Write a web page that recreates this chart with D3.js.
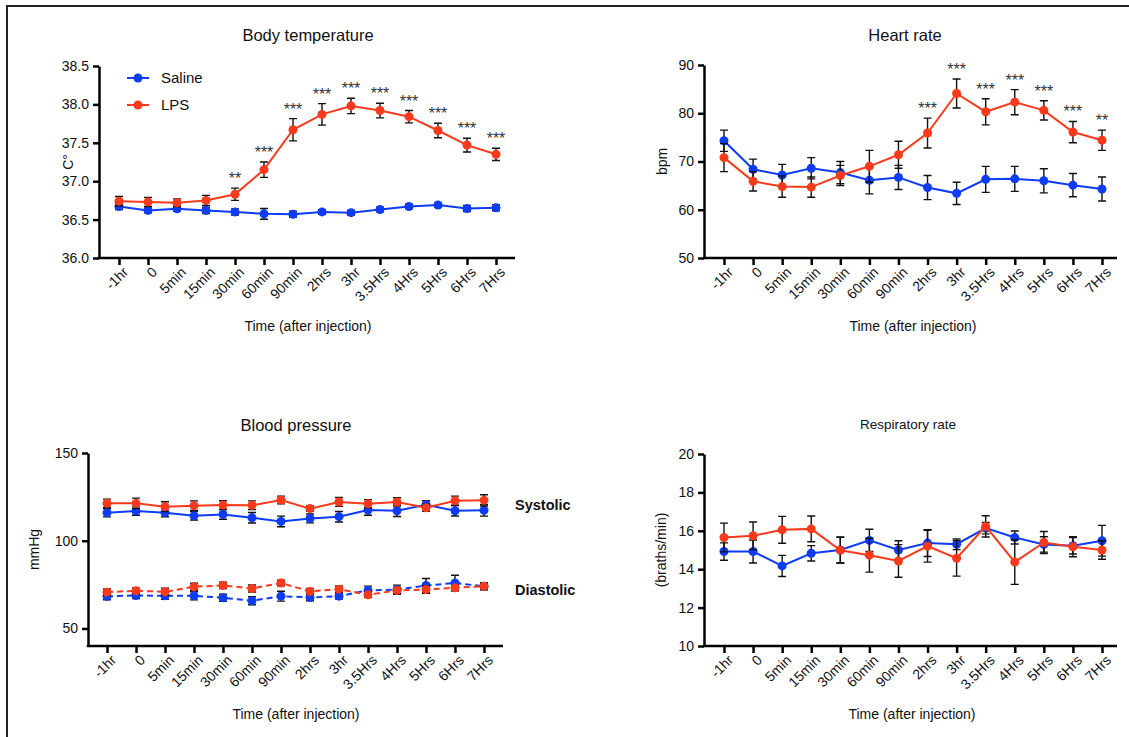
<!DOCTYPE html>
<html>
<head>
<meta charset="utf-8">
<script src="https://cdn.jsdelivr.net/npm/d3@7"></script>
<style>
  body { margin: 0; background: #fff; }
  svg { display: block; font-family: "Liberation Sans", Arial, sans-serif; }
</style>
</head>
<body>
<div class="graph"></div>
<script>
//Time points on the x axis
const timePoints = ["-1hr", "0", "5min", "15min", "30min", "60min", "90min", "2hrs", "3hr", "3.5Hrs", "4Hrs", "5Hrs", "6Hrs", "7Hrs"];

//Body temperature (mean and error)
const tempSaline = [36.67, 36.62, 36.64, 36.62, 36.60, 36.575, 36.57, 36.60, 36.59, 36.63, 36.67, 36.69, 36.645, 36.655];
const tempSalineErr = [0.04, 0.03, 0.03, 0.04, 0.04, 0.07, 0.04, 0.03, 0.03, 0.03, 0.03, 0.025, 0.04, 0.04];
const tempLPS = [36.74, 36.73, 36.72, 36.75, 36.83, 37.15, 37.67, 37.87, 37.98, 37.92, 37.84, 37.66, 37.47, 37.35];
const tempLPSErr = [0.06, 0.06, 0.05, 0.065, 0.08, 0.10, 0.145, 0.14, 0.10, 0.095, 0.08, 0.095, 0.09, 0.08];
const tempStars = ["", "", "", "", "**", "***", "***", "***", "***", "***", "***", "***", "***", "***"];
const tempTicks = [36.0, 36.5, 37.0, 37.5, 38.0, 38.5];

//Heart rate
const hrSaline = [74.3, 68.4, 67.2, 68.6, 67.7, 66.1, 66.7, 64.6, 63.4, 66.3, 66.4, 66.0, 65.1, 64.3];
const hrSalineErr = [2.2, 2.1, 2.2, 2.2, 2.3, 2.8, 2.5, 2.5, 2.3, 2.7, 2.6, 2.5, 2.4, 2.5];
const hrLPS = [70.8, 65.9, 64.8, 64.7, 67.1, 69.0, 71.4, 75.9, 84.1, 80.3, 82.3, 80.6, 76.1, 74.4];
const hrLPSErr = [2.9, 2.0, 2.2, 2.1, 2.1, 3.3, 2.8, 3.1, 3.0, 2.7, 2.6, 2.0, 2.2, 2.1];
const hrStars = ["", "", "", "", "", "", "", "***", "***", "***", "***", "***", "***", "**"];
const hrTicks = [50, 60, 70, 80, 90];

//Blood pressure
const sysSaline = [116.0, 116.9, 116.0, 114.3, 115.0, 113.1, 111.0, 112.7, 113.7, 117.5, 117.1, 120.5, 117.1, 117.3];
const sysSalineErr = [2.4, 2.4, 2.3, 2.5, 2.8, 3.0, 3.0, 2.5, 3.0, 3.0, 3.3, 2.3, 3.0, 3.3];
const sysLPS = [121.3, 121.3, 119.4, 120.0, 120.3, 120.2, 123.2, 118.3, 122.1, 121.1, 122.1, 118.8, 122.8, 123.0];
const sysLPSErr = [2.4, 3.0, 2.8, 2.7, 2.5, 2.5, 2.2, 1.5, 2.5, 2.3, 2.4, 2.0, 2.6, 3.2];
const diaSaline = [68.3, 68.8, 68.6, 68.6, 67.5, 65.8, 68.4, 67.7, 68.4, 71.7, 72.1, 74.5, 75.9, 74.0];
const diaSalineErr = [1.9, 1.8, 2.0, 2.3, 2.0, 2.3, 2.8, 1.9, 1.6, 2.4, 2.6, 4.0, 4.4, 1.8];
const diaLPS = [70.7, 71.5, 70.9, 73.8, 74.5, 72.8, 75.9, 71.1, 72.4, 69.2, 71.7, 72.2, 73.2, 74.0];
const diaLPSErr = [1.8, 1.6, 2.0, 2.0, 1.8, 2.0, 1.6, 1.7, 1.8, 1.5, 1.6, 2.1, 1.6, 2.0];
const bpTicks = [50, 100, 150];

//Respiratory rate
const rrSaline = [14.92, 14.92, 14.17, 14.83, 15.0, 15.5, 15.0, 15.36, 15.3, 16.14, 15.65, 15.29, 15.22, 15.48];
const rrSalineErr = [0.45, 0.6, 0.55, 0.4, 0.68, 0.58, 0.48, 0.7, 0.28, 0.3, 0.34, 0.4, 0.43, 0.8];
const rrLPS = [15.65, 15.74, 16.05, 16.1, 14.99, 14.73, 14.43, 15.2, 14.57, 16.23, 14.37, 15.39, 15.17, 15.0];
const rrLPSErr = [0.75, 0.72, 0.7, 0.67, 0.67, 0.88, 0.85, 0.83, 0.93, 0.55, 1.16, 0.57, 0.52, 0.48];
const rrTicks = [10, 12, 14, 16, 18, 20];

const BLUE = "#0d3cf4",
      RED = "#f83a1c";

let svg = d3
    .select(".graph")
    .append("svg")
    .attr("width", 1129)
    .attr("height", 737);

//Frame lines on the left and the top
svg.append("path")
   .attr("d", "M7,737V6H1129")
   .attr("fill", "none")
   .attr("stroke", "#222")
   .attr("stroke-width", 2);

//Draws one panel with its axes, title and labels
function createPanel(p){
    let g = svg.append("g");

    let xScale = d3.scalePoint().domain(timePoints).range([p.first, p.last]);
    let yScale = d3.scaleLinear().domain(p.domain).range([p.bottom, p.top]);

    //y axis
    let yAxis = g.append("g")
        .attr("transform", `translate(${p.axisX}, 0)`)
        .call(d3.axisLeft(yScale).tickValues(p.ticks).tickSize(6).tickSizeOuter(0).tickPadding(4)
              .tickFormat(p.format || d3.format("d")));
    yAxis.select(".domain").attr("stroke-width", 2.5);
    yAxis.selectAll(".tick line").attr("stroke-width", 2.5);
    yAxis.selectAll("text").attr("font-size", 14).attr("fill", "#111");

    //x axis
    let xAxis = g.append("g")
        .attr("transform", `translate(0, ${p.bottom})`)
        .call(d3.axisBottom(xScale).tickSize(7).tickSizeOuter(0).tickFormat(""));
    xAxis.select(".domain")
         .attr("d", `M${p.axisX - 1.25},0H${p.end}`)
         .attr("stroke-width", 2.5);
    xAxis.selectAll(".tick line").attr("stroke-width", 2.5);

    g.append("g")
     .selectAll("text")
     .data(timePoints)
     .enter()
     .append("text")
     .attr("transform", d => `translate(${xScale(d) + 10}, ${p.bottom + 15}) rotate(-45)`)
     .attr("text-anchor", "end")
     .attr("font-size", 14)
     .attr("fill", "#111")
     .text(d => d);

    //Titles and axis labels
    g.append("text")
     .attr("x", p.titleX)
     .attr("y", p.titleY)
     .attr("text-anchor", "middle")
     .attr("font-size", p.titleSize)
     .attr("fill", "#111")
     .text(p.title);

    g.append("text")
     .attr("x", p.titleX + (p.xLabelShift || 0))
     .attr("y", p.bottom + 73)
     .attr("text-anchor", "middle")
     .attr("font-size", 14)
     .attr("fill", "#111")
     .text("Time (after injection)");

    g.append("text")
     .attr("transform", `translate(${p.yLabelX}, ${(p.top + p.bottom) / 2}) rotate(-90)`)
     .attr("text-anchor", "middle")
     .attr("dy", "0.35em")
     .attr("font-size", 14)
     .attr("fill", "#111")
     .text(p.yLabel);

    //Each series: line, error bars, points
    p.series.forEach(s => {
        let pts = timePoints.map((t, i) => ({t: t, v: s.values[i], e: s.errors[i]}));

        g.append("path")
         .datum(pts)
         .attr("fill", "none")
         .attr("stroke", s.color)
         .attr("stroke-width", 2)
         .attr("stroke-dasharray", s.dashed ? "6,4" : null)
         .attr("d", d3.line().x(d => xScale(d.t)).y(d => yScale(d.v)));

        let bars = g.append("g")
            .attr("stroke", "#111")
            .attr("stroke-width", 1.4)
            .attr("fill", "none");

        bars.selectAll("path")
            .data(pts)
            .enter()
            .append("path")
            .attr("d", d => {
                let x = xScale(d.t), y1 = yScale(d.v + d.e), y2 = yScale(d.v - d.e);
                return `M${x - 4},${y1}H${x + 4}M${x},${y1}V${y2}M${x - 4},${y2}H${x + 4}`;
            });

        g.append("g")
         .selectAll("circle")
         .data(pts)
         .enter()
         .append("circle")
         .attr("cx", d => xScale(d.t))
         .attr("cy", d => yScale(d.v))
         .attr("r", 4.5)
         .style("fill", s.color);

        //Significance stars above the error bars
        if (s.stars) {
            g.append("g")
             .selectAll("text")
             .data(pts)
             .enter()
             .append("text")
             .attr("x", d => xScale(d.t))
             .attr("y", d => yScale(d.v + d.e) - 4)
             .attr("text-anchor", "middle")
             .attr("font-size", 16)
             .attr("fill", "#333")
             .text((d, i) => s.stars[i]);
        }
    });

    return g;
}

//Body temperature
let tempPanel = createPanel({
    title: "Body temperature", titleX: 308, titleY: 41, titleSize: 16.5,
    axisX: 99, first: 119, last: 496, end: 515, top: 66, bottom: 258,
    domain: [36, 38.5], ticks: tempTicks, format: d3.format(".1f"),
    yLabel: "C°", yLabelX: 68,
    series: [
        {values: tempSaline, errors: tempSalineErr, color: BLUE},
        {values: tempLPS, errors: tempLPSErr, color: RED, stars: tempStars}
    ]
});

//Legend
const legendNames = ["Saline", "LPS"];
const legendColors = [BLUE, RED];
let legend = tempPanel.append("g")
    .selectAll("g")
    .data(legendNames)
    .enter()
    .append("g")
    .attr("transform", (d, i) => `translate(0, ${78 + i * 27})`);
legend.append("line")
      .attr("x1", 127).attr("x2", 149)
      .attr("stroke", (d, i) => legendColors[i])
      .attr("stroke-width", 2);
legend.append("circle")
      .attr("cx", 138)
      .attr("r", 4.5)
      .style("fill", (d, i) => legendColors[i]);
legend.append("text")
      .attr("x", 161)
      .attr("dy", "0.35em")
      .attr("font-size", 15)
      .attr("fill", "#111")
      .text(d => d);

//Heart rate
createPanel({
    title: "Heart rate", titleX: 905, titleY: 41, titleSize: 16.5, xLabelShift: 8,
    axisX: 704, first: 724, last: 1102, end: 1117, top: 65, bottom: 258,
    domain: [50, 90], ticks: hrTicks,
    yLabel: "bpm", yLabelX: 662,
    series: [
        {values: hrSaline, errors: hrSalineErr, color: BLUE},
        {values: hrLPS, errors: hrLPSErr, color: RED, stars: hrStars}
    ]
});

//Blood pressure
let bpPanel = createPanel({
    title: "Blood pressure", titleX: 296, titleY: 431, titleSize: 16.5,
    axisX: 88, first: 107, last: 484, end: 503, top: 453, bottom: 646,
    domain: [40, 150], ticks: bpTicks,
    yLabel: "mmHg", yLabelX: 34,
    series: [
        {values: diaSaline, errors: diaSalineErr, color: BLUE, dashed: true},
        {values: diaLPS, errors: diaLPSErr, color: RED, dashed: true},
        {values: sysSaline, errors: sysSalineErr, color: BLUE},
        {values: sysLPS, errors: sysLPSErr, color: RED}
    ]
});

const bpLabels = ["Systolic", "Diastolic"];
const bpLabelY = [505, 590];
bpPanel.append("g")
       .selectAll("text")
       .data(bpLabels)
       .enter()
       .append("text")
       .attr("x", 515)
       .attr("y", (d, i) => bpLabelY[i])
       .attr("dy", "0.35em")
       .attr("font-size", 14.5)
       .attr("font-weight", "bold")
       .attr("fill", "#111")
       .text(d => d);

//Respiratory rate
createPanel({
    title: "Respiratory rate", titleX: 908, titleY: 429, titleSize: 13.5, xLabelShift: 4,
    axisX: 704, first: 724, last: 1102, end: 1117, top: 454, bottom: 646,
    domain: [10, 20], ticks: rrTicks,
    yLabel: "(braths/min)", yLabelX: 661,
    series: [
        {values: rrSaline, errors: rrSalineErr, color: BLUE},
        {values: rrLPS, errors: rrLPSErr, color: RED}
    ]
});
</script>
</body>
</html>
